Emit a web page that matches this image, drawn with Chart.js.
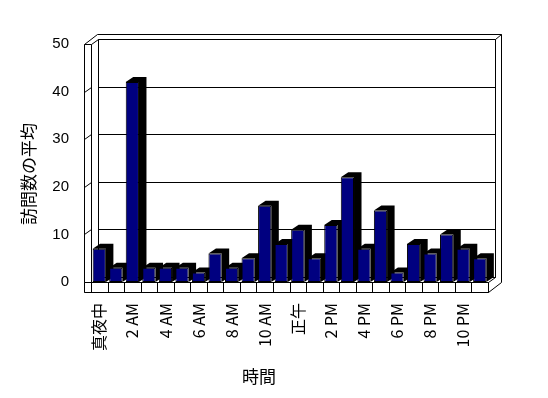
<!DOCTYPE html>
<html>
<head>
<meta charset="utf-8">
<script src="https://cdn.jsdelivr.net/npm/chart.js@4/dist/chart.umd.min.js"></script>
<style>
html, body { margin: 0; padding: 0; background: #fff; }
</style>
</head>
<body>
<canvas id="chart" width="548" height="398"></canvas>
<script>
// data
var hours = ['真夜中', '1 AM', '2 AM', '3 AM', '4 AM', '5 AM', '6 AM', '7 AM', '8 AM', '9 AM', '10 AM', '11 AM',
             '正午', '1 PM', '2 PM', '3 PM', '4 PM', '5 PM', '6 PM', '7 PM', '8 PM', '9 PM', '10 PM', '11 PM'];
var visits = [7, 3, 42, 3, 3, 3, 2, 6, 3, 5, 16, 8, 11, 5, 12, 22, 7, 15, 2, 8, 6, 10, 7, 5];
var yTicks = [0, 10, 20, 30, 40, 50];
var yTitle = '訪問数の平均';
var xTitle = '時間';

// 3d look
var DX = 7, DY = -5;      // front plane -> back wall
var TX = 5.5, TY = -5;    // wall thickness
var WALL = 7;             // left wall front width
var FLOOR = 10;           // floor front height
var BX = 7.5, BY = -5;    // bar depth

function px(v) { return Math.round(v) + 0.5; }

function poly(c, pts, fill) {
    c.beginPath();
    c.moveTo(px(pts[0][0]), px(pts[0][1]));
    for (var i = 1; i < pts.length; i++) c.lineTo(px(pts[i][0]), px(pts[i][1]));
    if (fill) {
        c.closePath();
        c.fillStyle = fill;
        c.fill();
    }
    c.stroke();
}

var frame3d = {
    id: 'frame3d',
    beforeDatasetsDraw: function (chart) {
        var a = chart.chartArea, ys = chart.scales.y, xs = chart.scales.x, c = chart.ctx;
        var L = a.left, R = a.right, T = a.top, B = a.bottom;
        c.save();
        c.strokeStyle = '#000';
        c.lineWidth = 1;

        // back wall + its thickness
        poly(c, [[L + DX, T + DY], [R + DX, T + DY], [R + DX, B + DY], [L + DX, B + DY]], '#fff');
        poly(c, [[L - WALL + DX + TX, T + DY + TY], [R + DX + TX, T + DY + TY], [R + DX + TX, B + FLOOR + DY + TY]]);
        poly(c, [[R + DX, T + DY], [R + DX + TX, T + DY + TY]]);

        // gridlines on back wall
        yTicks.forEach(function (v) {
            var y = ys.getPixelForValue(v) + DY;
            poly(c, [[L + DX, y], [R + DX, y]]);
        });

        // left wall
        poly(c, [[L - WALL, B + FLOOR], [L - WALL, T], [L, T], [L, B]]);
        poly(c, [[L - WALL, T], [L - WALL + DX + TX, T + DY + TY]]);
        poly(c, [[L, T], [L + DX, T + DY]]);
        yTicks.forEach(function (v) {
            if (v === 0 || v === 50) return;
            var y = ys.getPixelForValue(v);
            poly(c, [[L - WALL, y], [L, y + DY]]);
        });

        // floor
        poly(c, [[L - WALL, B], [R, B], [R, B + FLOOR], [L - WALL, B + FLOOR]], '#fff');
        for (var i = 0; i <= hours.length; i++) {
            var x = xs.getPixelForValue(i - 0.5);
            poly(c, [[x, B], [x, B + FLOOR]]);
        }
        poly(c, [[R, B], [R + DX, B + DY]]);
        poly(c, [[R, B + FLOOR], [R + DX + TX, B + FLOOR + DY + TY]]);

        // bar sides and tops
        var meta = chart.getDatasetMeta(0);
        c.fillStyle = '#000';
        meta.data.forEach(function (bar) {
            var l = bar.x - bar.width / 2, r = bar.x + bar.width / 2;
            c.beginPath();
            c.moveTo(l, bar.y);
            c.lineTo(l + BX, bar.y + BY);
            c.lineTo(r + BX, bar.y + BY);
            c.lineTo(r + BX, bar.base + BY);
            c.lineTo(r, bar.base);
            c.lineTo(r, bar.y);
            c.closePath();
            c.fill();
        });
        c.restore();
    },
    afterDraw: function (chart) {
        var c = chart.ctx;
        c.save();
        c.fillStyle = '#000';
        c.font = "17px 'Noto Sans CJK JP'";
        c.textAlign = 'center';
        c.textBaseline = 'middle';
        c.fillText(xTitle, 259, 377);
        c.translate(29, 174);
        c.rotate(-Math.PI / 2);
        c.fillText(yTitle, 0, 0);
        c.restore();
    }
};

new Chart(document.getElementById('chart'), {
    type: 'bar',
    data: {
        labels: hours,
        datasets: [{
            data: visits,
            backgroundColor: '#000080',
            borderColor: '#000',
            borderWidth: 1,
            borderSkipped: false,
            barPercentage: 0.8,
            categoryPercentage: 1
        }]
    },
    options: {
        responsive: false,
        animation: false,
        events: [],
        layout: { padding: { left: 0, top: 44, right: 60, bottom: 0 } },
        plugins: {
            legend: { display: false },
            tooltip: { enabled: false }
        },
        scales: {
            x: {
                grid: { display: false, drawTicks: false },
                border: { display: false },
                ticks: {
                    autoSkip: false,
                    minRotation: 90,
                    maxRotation: 90,
                    padding: 21,
                    color: '#000',
                    font: { family: "'Noto Sans CJK JP'", size: 16 },
                    callback: function (v, i) { return i % 2 === 0 ? hours[i] : ''; }
                },
                afterFit: function (s) { s.height = 116; }
            },
            y: {
                min: 0,
                max: 50,
                grid: { display: false, drawTicks: false },
                border: { display: false },
                ticks: {
                    stepSize: 10,
                    padding: 22,
                    color: '#000',
                    font: { family: "'Liberation Sans'", size: 15 }
                },
                afterFit: function (s) { s.width = 91; }
            }
        }
    },
    plugins: [frame3d]
});
</script>
</body>
</html>
